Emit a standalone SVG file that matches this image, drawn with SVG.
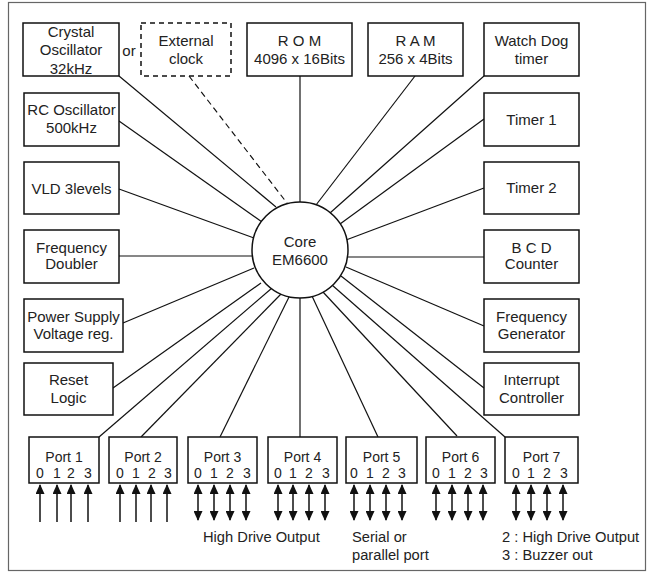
<svg xmlns="http://www.w3.org/2000/svg" width="651" height="574" viewBox="0 0 651 574">
<style>
.box{fill:#fff;stroke:#111;stroke-width:1.5}
.dash{fill:#fff;stroke:#111;stroke-width:1.5;stroke-dasharray:5 4}
.t{font-family:"Liberation Sans",Arial,sans-serif;font-size:15px;fill:#222;text-anchor:middle}
.p{font-family:"Liberation Sans",Arial,sans-serif;font-size:14px;fill:#222;text-anchor:middle}
.b{font-family:"Liberation Sans",Arial,sans-serif;font-size:14.7px;fill:#222}
.ln{stroke:#111;stroke-width:1.2;fill:none}
.dl{stroke:#111;stroke-width:1.2;fill:none;stroke-dasharray:6 4}
.ar{stroke:#111;stroke-width:1.5;fill:none}
.up{marker-end:url(#ah)}
.bi{marker-start:url(#ah);marker-end:url(#ah)}
</style>
<defs>
<marker id="ah" viewBox="0 0 10 10" refX="9" refY="5" markerWidth="10" markerHeight="9" markerUnits="userSpaceOnUse" orient="auto-start-reverse" preserveAspectRatio="none">
<path d="M0,0 L10,5 L0,10 z" fill="#111"/>
</marker>
</defs>
<rect x="0" y="0" width="651" height="574" fill="#fff"/>
<rect x="8.5" y="2.5" width="637" height="568" fill="none" stroke="#666" stroke-width="1.2"/>

<g id="connectors">
<line class="ln" x1="119" y1="76" x2="276" y2="207"/>
<line class="dl" x1="189" y1="76" x2="287" y2="203"/>
<line class="ln" x1="119" y1="121" x2="262" y2="222"/>
<line class="ln" x1="119" y1="189" x2="254" y2="238"/>
<line class="ln" x1="119" y1="256" x2="253" y2="256"/>
<line class="ln" x1="123" y1="323" x2="254" y2="268"/>
<line class="ln" x1="113" y1="388" x2="261" y2="283"/>
<line class="ln" x1="99" y1="437" x2="272" y2="288"/>
<line class="ln" x1="141" y1="437" x2="281" y2="294"/>
<line class="ln" x1="220" y1="437" x2="289" y2="297"/>
<line class="ln" x1="300" y1="437" x2="300" y2="297"/>
<line class="ln" x1="378" y1="437" x2="312" y2="296"/>
<line class="ln" x1="457" y1="436" x2="323" y2="292"/>
<line class="ln" x1="505" y1="437" x2="332" y2="285"/>
<line class="ln" x1="484" y1="388" x2="341" y2="276"/>
<line class="ln" x1="484" y1="326" x2="346" y2="267"/>
<line class="ln" x1="484" y1="257" x2="347" y2="257"/>
<line class="ln" x1="484" y1="188" x2="346" y2="240"/>
<line class="ln" x1="484" y1="119" x2="340" y2="224"/>
<line class="ln" x1="484" y1="76" x2="330" y2="213"/>
<line class="ln" x1="415" y1="76" x2="316" y2="205"/>
<line class="ln" x1="300" y1="76" x2="300" y2="203"/>
</g>

<g id="core">
<circle cx="300" cy="250" r="48" fill="#fff" stroke="#111" stroke-width="1.5"/>
<text class="t" x="300" y="247">Core</text>
<text class="t" x="300" y="265">EM6600</text>
</g>

<g id="crystal">
<rect class="box" x="23" y="23" width="96" height="53"/>
<text class="t" x="71" y="37">Crystal</text>
<text class="t" x="71" y="55">Oscillator</text>
<text class="t" x="71" y="74">32kHz</text>
</g>
<g id="or"><text class="t" x="129" y="56">or</text></g>
<g id="extclock">
<rect class="dash" x="141" y="23" width="90" height="53"/>
<text class="t" x="186" y="46">External</text>
<text class="t" x="186" y="64">clock</text>
</g>
<g id="rom">
<rect class="box" x="247" y="23" width="105" height="53"/>
<text class="t" x="299.5" y="46">R O M</text>
<text class="t" x="299.5" y="64">4096 x 16Bits</text>
</g>
<g id="ram">
<rect class="box" x="368" y="23" width="95" height="53"/>
<text class="t" x="415.5" y="46">R A M</text>
<text class="t" x="415.5" y="64">256 x 4Bits</text>
</g>
<g id="watchdog">
<rect class="box" x="484" y="23" width="95" height="53"/>
<text class="t" x="531.5" y="46">Watch Dog</text>
<text class="t" x="531.5" y="64">timer</text>
</g>
<g id="rcosc">
<rect class="box" x="24" y="93" width="95" height="53"/>
<text class="t" x="71.5" y="115">RC Oscillator</text>
<text class="t" x="71.5" y="133">500kHz</text>
</g>
<g id="timer1">
<rect class="box" x="484" y="93" width="95" height="53"/>
<text class="t" x="531.5" y="125">Timer 1</text>
</g>
<g id="vld">
<rect class="box" x="24" y="162" width="95" height="52"/>
<text class="t" x="71.5" y="194">VLD 3levels</text>
</g>
<g id="timer2">
<rect class="box" x="484" y="162" width="95" height="52"/>
<text class="t" x="531.5" y="193">Timer 2</text>
</g>
<g id="freqdoubler">
<rect class="box" x="24" y="230" width="95" height="53"/>
<text class="t" x="71.5" y="253">Frequency</text>
<text class="t" x="71.5" y="269">Doubler</text>
</g>
<g id="bcd">
<rect class="box" x="484" y="230" width="95" height="53"/>
<text class="t" x="531.5" y="253">B C D</text>
<text class="t" x="531.5" y="269">Counter</text>
</g>
<g id="powersupply">
<rect class="box" x="24" y="299" width="99" height="53"/>
<text class="t" x="73.5" y="322">Power Supply</text>
<text class="t" x="73.5" y="339">Voltage reg.</text>
</g>
<g id="freqgen">
<rect class="box" x="484" y="299" width="95" height="53"/>
<text class="t" x="531.5" y="322">Frequency</text>
<text class="t" x="531.5" y="339">Generator</text>
</g>
<g id="reset">
<rect class="box" x="24" y="363" width="89" height="52"/>
<text class="t" x="68.5" y="385">Reset</text>
<text class="t" x="68.5" y="403">Logic</text>
</g>
<g id="interrupt">
<rect class="box" x="484" y="363" width="95" height="52"/>
<text class="t" x="531.5" y="385">Interrupt</text>
<text class="t" x="531.5" y="403">Controller</text>
</g>

<g id="port1">
<rect class="box" x="29" y="437" width="70" height="46"/>
<text class="p" x="64" y="462">Port 1</text>
<text class="p" x="40" y="478">0</text><text class="p" x="57" y="478">1</text><text class="p" x="71" y="478">2</text><text class="p" x="88" y="478">3</text>
<line class="ar up" x1="40" y1="522" x2="40" y2="485"/>
<line class="ar up" x1="57" y1="522" x2="57" y2="485"/>
<line class="ar up" x1="71" y1="522" x2="71" y2="485"/>
<line class="ar up" x1="88" y1="522" x2="88" y2="485"/>
</g>
<g id="port2">
<rect class="box" x="109" y="437" width="68" height="46"/>
<text class="p" x="143" y="462">Port 2</text>
<text class="p" x="120" y="478">0</text><text class="p" x="136" y="478">1</text><text class="p" x="152" y="478">2</text><text class="p" x="168" y="478">3</text>
<line class="ar up" x1="120" y1="522" x2="120" y2="485"/>
<line class="ar up" x1="136" y1="522" x2="136" y2="485"/>
<line class="ar up" x1="151" y1="522" x2="151" y2="485"/>
<line class="ar up" x1="167" y1="522" x2="167" y2="485"/>
</g>
<g id="port3">
<rect class="box" x="188" y="437" width="69" height="46"/>
<text class="p" x="222.5" y="462">Port 3</text>
<text class="p" x="198" y="478">0</text><text class="p" x="214" y="478">1</text><text class="p" x="230" y="478">2</text><text class="p" x="247" y="478">3</text>
<line class="ar bi" x1="198" y1="485" x2="198" y2="520"/>
<line class="ar bi" x1="214" y1="485" x2="214" y2="520"/>
<line class="ar bi" x1="230" y1="485" x2="230" y2="520"/>
<line class="ar bi" x1="246" y1="485" x2="246" y2="520"/>
</g>
<g id="port4">
<rect class="box" x="268" y="437" width="69" height="46"/>
<text class="p" x="302.5" y="462">Port 4</text>
<text class="p" x="278" y="478">0</text><text class="p" x="293" y="478">1</text><text class="p" x="309" y="478">2</text><text class="p" x="326" y="478">3</text>
<line class="ar bi" x1="278" y1="485" x2="278" y2="520"/>
<line class="ar bi" x1="293" y1="485" x2="293" y2="520"/>
<line class="ar bi" x1="309" y1="485" x2="309" y2="520"/>
<line class="ar bi" x1="325" y1="485" x2="325" y2="520"/>
</g>
<g id="port5">
<rect class="box" x="346" y="437" width="71" height="46"/>
<text class="p" x="381.5" y="462">Port 5</text>
<text class="p" x="354" y="478">0</text><text class="p" x="370" y="478">1</text><text class="p" x="386" y="478">2</text><text class="p" x="402" y="478">3</text>
<line class="ar bi" x1="354" y1="485" x2="354" y2="520"/>
<line class="ar bi" x1="370" y1="485" x2="370" y2="520"/>
<line class="ar bi" x1="386" y1="485" x2="386" y2="520"/>
<line class="ar bi" x1="402" y1="485" x2="402" y2="520"/>
</g>
<g id="port6">
<rect class="box" x="426" y="437" width="69" height="46"/>
<text class="p" x="460.5" y="462">Port 6</text>
<text class="p" x="436" y="478">0</text><text class="p" x="452" y="478">1</text><text class="p" x="468" y="478">2</text><text class="p" x="484" y="478">3</text>
<line class="ar bi" x1="436" y1="485" x2="436" y2="520"/>
<line class="ar bi" x1="452" y1="485" x2="452" y2="520"/>
<line class="ar bi" x1="468" y1="485" x2="468" y2="520"/>
<line class="ar bi" x1="483" y1="485" x2="483" y2="520"/>
</g>
<g id="port7">
<rect class="box" x="505" y="437" width="73" height="46"/>
<text class="p" x="541.5" y="462">Port 7</text>
<text class="p" x="516" y="478">0</text><text class="p" x="531" y="478">1</text><text class="p" x="547" y="478">2</text><text class="p" x="564" y="478">3</text>
<line class="ar bi" x1="516" y1="485" x2="516" y2="520"/>
<line class="ar bi" x1="531" y1="485" x2="531" y2="520"/>
<line class="ar bi" x1="547" y1="485" x2="547" y2="520"/>
<line class="ar bi" x1="563" y1="485" x2="563" y2="520"/>
</g>

<g id="notes">
<text class="b" x="203" y="542">High Drive Output</text>
<text class="b" x="352" y="542">Serial or</text>
<text class="b" x="352" y="560">parallel port</text>
<text class="b" x="502" y="542">2 : High Drive Output</text>
<text class="b" x="502" y="560">3 : Buzzer out</text>
</g>
</svg>
